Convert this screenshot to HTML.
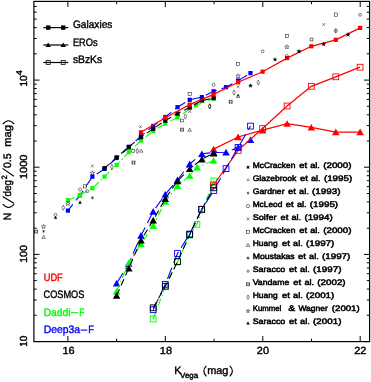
<!DOCTYPE html>
<html><head><meta charset="utf-8"><title>K-band number counts</title>
<style>
html,body{margin:0;padding:0;background:#fff;}
body{width:371px;height:382px;overflow:hidden;}
svg{display:block;font-family:"Liberation Sans",sans-serif;will-change:transform;}
text{text-rendering:geometricPrecision;}
</style></head><body>
<svg width="371" height="382" viewBox="0 0 371 382">
<g id="series">
<polyline points="67.9,210.6 80.0,195.3 92.4,176.7 104.5,168.9 116.6,158.0 128.8,147.5 141.0,136.0 153.2,126.0 165.3,117.0 177.5,107.2 189.7,99.8 201.9,97.1 213.6,91.3 226.0,87.2 238.1,80.6 250.5,73.1" fill="none" stroke="#0000ff" stroke-width="1.1" stroke-dasharray="12 5" stroke-dashoffset="4"/>
<rect x="65.8" y="208.5" width="4.2" height="4.2" fill="#0000ff"/>
<rect x="77.9" y="193.2" width="4.2" height="4.2" fill="#0000ff"/>
<rect x="90.3" y="174.6" width="4.2" height="4.2" fill="#0000ff"/>
<rect x="102.4" y="166.8" width="4.2" height="4.2" fill="#0000ff"/>
<rect x="114.5" y="155.9" width="4.2" height="4.2" fill="#0000ff"/>
<rect x="126.7" y="145.4" width="4.2" height="4.2" fill="#0000ff"/>
<rect x="138.9" y="133.9" width="4.2" height="4.2" fill="#0000ff"/>
<rect x="151.1" y="123.9" width="4.2" height="4.2" fill="#0000ff"/>
<rect x="163.2" y="114.9" width="4.2" height="4.2" fill="#0000ff"/>
<rect x="175.4" y="105.1" width="4.2" height="4.2" fill="#0000ff"/>
<rect x="187.6" y="97.7" width="4.2" height="4.2" fill="#0000ff"/>
<rect x="199.8" y="95.0" width="4.2" height="4.2" fill="#0000ff"/>
<rect x="211.5" y="89.2" width="4.2" height="4.2" fill="#0000ff"/>
<rect x="223.9" y="85.1" width="4.2" height="4.2" fill="#0000ff"/>
<rect x="236.0" y="78.5" width="4.2" height="4.2" fill="#0000ff"/>
<rect x="248.4" y="71.0" width="4.2" height="4.2" fill="#0000ff"/>
<polyline points="67.9,200.2 80.0,194.9 92.4,188.3 104.5,176.7 116.6,165.0 128.8,152.2 141.0,140.5 153.2,131.0 165.3,123.6 177.5,117.3 195.9,105.2 213.6,98.6" fill="none" stroke="#00ff00" stroke-width="1.1" stroke-dasharray="7 3 1.5 3"/>
<rect x="65.8" y="198.1" width="4.2" height="4.2" fill="#00ff00"/>
<rect x="77.9" y="192.8" width="4.2" height="4.2" fill="#00ff00"/>
<rect x="90.3" y="186.2" width="4.2" height="4.2" fill="#00ff00"/>
<rect x="102.4" y="174.6" width="4.2" height="4.2" fill="#00ff00"/>
<rect x="114.5" y="162.9" width="4.2" height="4.2" fill="#00ff00"/>
<rect x="126.7" y="150.1" width="4.2" height="4.2" fill="#00ff00"/>
<rect x="138.9" y="138.4" width="4.2" height="4.2" fill="#00ff00"/>
<rect x="151.1" y="128.9" width="4.2" height="4.2" fill="#00ff00"/>
<rect x="163.2" y="121.5" width="4.2" height="4.2" fill="#00ff00"/>
<rect x="175.4" y="115.2" width="4.2" height="4.2" fill="#00ff00"/>
<rect x="193.8" y="103.1" width="4.2" height="4.2" fill="#00ff00"/>
<rect x="211.5" y="96.5" width="4.2" height="4.2" fill="#00ff00"/>
<polyline points="104.5,168.2 116.6,157.4 128.8,146.8 141.0,137.1 153.2,128.7 165.3,120.6 177.5,113.6 189.7,107.6 201.9,100.5 213.6,98.1" fill="none" stroke="#000000" stroke-width="1.1" stroke-dasharray="7 4"/>
<rect x="102.4" y="166.1" width="4.2" height="4.2" fill="#000000"/>
<rect x="114.5" y="155.3" width="4.2" height="4.2" fill="#000000"/>
<rect x="126.7" y="144.7" width="4.2" height="4.2" fill="#000000"/>
<rect x="138.9" y="135.0" width="4.2" height="4.2" fill="#000000"/>
<rect x="151.1" y="126.6" width="4.2" height="4.2" fill="#000000"/>
<rect x="163.2" y="118.5" width="4.2" height="4.2" fill="#000000"/>
<rect x="175.4" y="111.5" width="4.2" height="4.2" fill="#000000"/>
<rect x="187.6" y="105.5" width="4.2" height="4.2" fill="#000000"/>
<rect x="199.8" y="98.4" width="4.2" height="4.2" fill="#000000"/>
<rect x="211.5" y="96.0" width="4.2" height="4.2" fill="#000000"/>
<polyline points="141.0,132.3 165.3,117.7 189.7,104.6 213.6,94.4 238.1,82.3 262.6,71.7 287.1,58.1 311.3,46.3 335.8,39.8 360.1,27.9" fill="none" stroke="#ff0000" stroke-width="1.25"/>
<rect x="138.9" y="130.2" width="4.2" height="4.2" fill="#ff0000"/>
<rect x="163.2" y="115.6" width="4.2" height="4.2" fill="#ff0000"/>
<rect x="187.6" y="102.5" width="4.2" height="4.2" fill="#ff0000"/>
<rect x="211.5" y="92.3" width="4.2" height="4.2" fill="#ff0000"/>
<rect x="236.0" y="80.2" width="4.2" height="4.2" fill="#ff0000"/>
<rect x="260.5" y="69.6" width="4.2" height="4.2" fill="#ff0000"/>
<rect x="285.0" y="56.0" width="4.2" height="4.2" fill="#ff0000"/>
<rect x="309.2" y="44.2" width="4.2" height="4.2" fill="#ff0000"/>
<rect x="333.7" y="37.7" width="4.2" height="4.2" fill="#ff0000"/>
<rect x="358.0" y="25.8" width="4.2" height="4.2" fill="#ff0000"/>
<polyline points="213.6,149.1 238.1,137.0 262.6,130.2 287.1,123.6 311.3,127.4 335.8,132.0 360.1,132.0" fill="none" stroke="#ff0000" stroke-width="1.25"/>
<polygon points="213.6,145.7 209.8,152.3 217.4,152.3" fill="#ff0000"/>
<polygon points="238.1,133.6 234.3,140.2 241.9,140.2" fill="#ff0000"/>
<polygon points="262.6,126.8 258.8,133.4 266.4,133.4" fill="#ff0000"/>
<polygon points="287.1,120.2 283.3,126.8 290.9,126.8" fill="#ff0000"/>
<polygon points="311.3,124.0 307.5,130.6 315.1,130.6" fill="#ff0000"/>
<polygon points="335.8,128.6 332.0,135.2 339.6,135.2" fill="#ff0000"/>
<polygon points="360.1,128.6 356.3,135.2 363.9,135.2" fill="#ff0000"/>
<polyline points="116.6,283.4 128.8,263.6 141.0,235.5 153.2,211.5 165.3,194.3 177.5,180.0 189.7,164.0 201.9,153.8 213.6,152.5 226.0,152.2 238.1,147.4 250.5,139.9" fill="none" stroke="#0000ff" stroke-width="1.1" stroke-dasharray="12 5"/>
<polygon points="116.6,280.0 112.8,286.6 120.4,286.6" fill="#0000ff"/>
<polygon points="128.8,260.2 125.0,266.8 132.6,266.8" fill="#0000ff"/>
<polygon points="141.0,232.1 137.2,238.7 144.8,238.7" fill="#0000ff"/>
<polygon points="153.2,208.1 149.4,214.7 157.0,214.7" fill="#0000ff"/>
<polygon points="165.3,190.9 161.5,197.5 169.1,197.5" fill="#0000ff"/>
<polygon points="177.5,176.6 173.7,183.2 181.3,183.2" fill="#0000ff"/>
<polygon points="189.7,160.6 185.9,167.2 193.5,167.2" fill="#0000ff"/>
<polygon points="201.9,150.4 198.1,157.0 205.7,157.0" fill="#0000ff"/>
<polygon points="213.6,149.1 209.8,155.7 217.4,155.7" fill="#0000ff"/>
<polygon points="226.0,148.8 222.2,155.4 229.8,155.4" fill="#0000ff"/>
<polygon points="238.1,144.0 234.3,150.6 241.9,150.6" fill="#0000ff"/>
<polygon points="250.5,136.5 246.7,143.1 254.3,143.1" fill="#0000ff"/>
<polyline points="116.6,291.3 128.8,262.9 141.0,244.0 153.2,225.8 165.3,201.6 177.5,185.8 189.7,175.6 197.2,167.2 213.6,160.6" fill="none" stroke="#00ff00" stroke-width="1.1" stroke-dasharray="7 3 1.5 3"/>
<polygon points="116.6,287.9 112.8,294.5 120.4,294.5" fill="#00ff00"/>
<polygon points="128.8,259.5 125.0,266.1 132.6,266.1" fill="#00ff00"/>
<polygon points="141.0,240.6 137.2,247.2 144.8,247.2" fill="#00ff00"/>
<polygon points="153.2,222.4 149.4,229.0 157.0,229.0" fill="#00ff00"/>
<polygon points="165.3,198.2 161.5,204.8 169.1,204.8" fill="#00ff00"/>
<polygon points="177.5,182.4 173.7,189.0 181.3,189.0" fill="#00ff00"/>
<polygon points="189.7,172.2 185.9,178.8 193.5,178.8" fill="#00ff00"/>
<polygon points="197.2,163.8 193.4,170.4 201.0,170.4" fill="#00ff00"/>
<polygon points="213.6,157.2 209.8,163.8 217.4,163.8" fill="#00ff00"/>
<polyline points="116.6,295.6 128.8,268.2 141.0,240.3 153.2,220.2 165.3,198.7 177.5,181.0 189.7,168.8 201.9,159.2 213.6,153.2" fill="none" stroke="#000000" stroke-width="1.1" stroke-dasharray="7 4"/>
<polygon points="116.6,292.2 112.8,298.8 120.4,298.8" fill="#000000"/>
<polygon points="128.8,264.8 125.0,271.4 132.6,271.4" fill="#000000"/>
<polygon points="141.0,236.9 137.2,243.5 144.8,243.5" fill="#000000"/>
<polygon points="153.2,216.8 149.4,223.4 157.0,223.4" fill="#000000"/>
<polygon points="165.3,195.3 161.5,201.9 169.1,201.9" fill="#000000"/>
<polygon points="177.5,177.6 173.7,184.2 181.3,184.2" fill="#000000"/>
<polygon points="189.7,165.4 185.9,172.0 193.5,172.0" fill="#000000"/>
<polygon points="201.9,155.8 198.1,162.4 205.7,162.4" fill="#000000"/>
<polygon points="213.6,149.8 209.8,156.4 217.4,156.4" fill="#000000"/>
<polyline points="153.2,319.0 165.3,286.5 177.5,262.0 189.7,235.0 196.9,224.3 213.8,181.0" fill="none" stroke="#00ff00" stroke-width="1.1" stroke-dasharray="7 3 1.5 3"/>
<rect x="150.3" y="316.1" width="5.8" height="5.8" fill="none" stroke="#00ff00" stroke-width="0.9"/>
<rect x="162.4" y="283.6" width="5.8" height="5.8" fill="none" stroke="#00ff00" stroke-width="0.9"/>
<rect x="174.6" y="259.1" width="5.8" height="5.8" fill="none" stroke="#00ff00" stroke-width="0.9"/>
<rect x="186.8" y="232.1" width="5.8" height="5.8" fill="none" stroke="#00ff00" stroke-width="0.9"/>
<rect x="194.0" y="221.4" width="5.8" height="5.8" fill="none" stroke="#00ff00" stroke-width="0.9"/>
<rect x="210.9" y="178.1" width="5.8" height="5.8" fill="none" stroke="#00ff00" stroke-width="0.9"/>
<polyline points="213.6,185.0 238.1,150.4 262.6,128.5 287.1,106.0 311.3,86.3 335.8,76.8 360.1,67.2" fill="none" stroke="#ff0000" stroke-width="1.25"/>
<rect x="210.7" y="182.1" width="5.8" height="5.8" fill="none" stroke="#ff0000" stroke-width="0.9"/>
<rect x="235.2" y="147.5" width="5.8" height="5.8" fill="none" stroke="#ff0000" stroke-width="0.9"/>
<rect x="259.7" y="125.6" width="5.8" height="5.8" fill="none" stroke="#ff0000" stroke-width="0.9"/>
<rect x="284.2" y="103.1" width="5.8" height="5.8" fill="none" stroke="#ff0000" stroke-width="0.9"/>
<rect x="308.4" y="83.4" width="5.8" height="5.8" fill="none" stroke="#ff0000" stroke-width="0.9"/>
<rect x="332.9" y="73.9" width="5.8" height="5.8" fill="none" stroke="#ff0000" stroke-width="0.9"/>
<rect x="357.2" y="64.3" width="5.8" height="5.8" fill="none" stroke="#ff0000" stroke-width="0.9"/>
<polyline points="153.2,309.7 165.3,284.3 177.5,253.5 189.7,234.0 201.7,209.3 213.8,190.5 226.0,168.6 238.1,147.4 250.5,126.1" fill="none" stroke="#0000ff" stroke-width="1.1" stroke-dasharray="12 5"/>
<rect x="150.3" y="306.8" width="5.8" height="5.8" fill="none" stroke="#0000ff" stroke-width="0.9"/>
<rect x="162.4" y="281.4" width="5.8" height="5.8" fill="none" stroke="#0000ff" stroke-width="0.9"/>
<rect x="174.6" y="250.6" width="5.8" height="5.8" fill="none" stroke="#0000ff" stroke-width="0.9"/>
<rect x="186.8" y="231.1" width="5.8" height="5.8" fill="none" stroke="#0000ff" stroke-width="0.9"/>
<rect x="198.8" y="206.4" width="5.8" height="5.8" fill="none" stroke="#0000ff" stroke-width="0.9"/>
<rect x="210.9" y="187.6" width="5.8" height="5.8" fill="none" stroke="#0000ff" stroke-width="0.9"/>
<rect x="223.1" y="165.7" width="5.8" height="5.8" fill="none" stroke="#0000ff" stroke-width="0.9"/>
<rect x="235.2" y="144.5" width="5.8" height="5.8" fill="none" stroke="#0000ff" stroke-width="0.9"/>
<rect x="247.6" y="123.2" width="5.8" height="5.8" fill="none" stroke="#0000ff" stroke-width="0.9"/>
<polyline points="153.2,307.8 165.3,286.2 177.5,261.6 189.7,234.6 201.7,209.3 213.8,187.8" fill="none" stroke="#000000" stroke-width="1.1" stroke-dasharray="7 4"/>
<rect x="150.3" y="304.9" width="5.8" height="5.8" fill="none" stroke="#000000" stroke-width="0.9"/>
<rect x="162.4" y="283.3" width="5.8" height="5.8" fill="none" stroke="#000000" stroke-width="0.9"/>
<rect x="174.6" y="258.7" width="5.8" height="5.8" fill="none" stroke="#000000" stroke-width="0.9"/>
<rect x="186.8" y="231.7" width="5.8" height="5.8" fill="none" stroke="#000000" stroke-width="0.9"/>
<rect x="198.8" y="206.4" width="5.8" height="5.8" fill="none" stroke="#000000" stroke-width="0.9"/>
<rect x="210.9" y="184.9" width="5.8" height="5.8" fill="none" stroke="#000000" stroke-width="0.9"/>
</g>
<g id="lit">
<rect x="334.2" y="13.0" width="3.2" height="3.2" fill="none" stroke="#000" stroke-width="0.5"/>
<circle cx="360.1" cy="14.8" r="1.4" fill="none" stroke="#000" stroke-width="0.5"/>
<path d="M322.3,23.1L325.1,25.9M322.3,25.9L325.1,23.1" stroke="#000" stroke-width="0.5" fill="none"/>
<circle cx="335.8" cy="30.8" r="1.6" fill="none" stroke="#000" stroke-width="0.5"/>
<path d="M335.8,28.4v4.8" stroke="#000" stroke-width="0.6"/>
<polygon points="348.00,31.90 348.67,33.68 350.57,33.77 349.08,34.95 349.59,36.78 348.00,35.73 346.41,36.78 346.92,34.95 345.43,33.77 347.33,33.68" fill="#000"/>
<rect x="285.3" y="34.3" width="3.2" height="3.2" fill="none" stroke="#000" stroke-width="0.5"/>
<rect x="310.1" y="38.1" width="2.8" height="2.8" fill="none" stroke="#000" stroke-width="0.5"/>
<polygon points="323.70,41.40 324.37,43.18 326.27,43.27 324.78,44.45 325.29,46.28 323.70,45.23 322.11,46.28 322.62,44.45 321.13,43.27 323.03,43.18" fill="#000"/>
<polygon points="286.90,44.70 287.47,46.22 289.09,46.29 287.82,47.30 288.25,48.86 286.90,47.97 285.55,48.86 285.98,47.30 284.71,46.29 286.33,46.22" fill="none" stroke="#000" stroke-width="0.5"/>
<polygon points="299.00,48.70 299.67,50.48 301.57,50.57 300.08,51.75 300.59,53.58 299.00,52.53 297.41,53.58 297.92,51.75 296.43,50.57 298.33,50.48" fill="#000"/>
<circle cx="286.9" cy="56.2" r="1.6" fill="none" stroke="#000" stroke-width="0.5"/>
<polygon points="275.00,57.00 275.62,58.65 277.38,58.73 276.00,59.82 276.47,61.52 275.00,60.55 273.53,61.52 274.00,59.82 272.62,58.73 274.38,58.65" fill="#000"/>
<circle cx="262.6" cy="51.3" r="1.4" fill="none" stroke="#000" stroke-width="0.5"/>
<rect x="236.5" y="62.3" width="3.2" height="3.2" fill="none" stroke="#000" stroke-width="0.5"/>
<polygon points="238.10,73.70 238.69,75.28 240.38,75.36 239.06,76.41 239.51,78.04 238.10,77.11 236.69,78.04 237.14,76.41 235.82,75.36 237.51,75.28" fill="none" stroke="#000" stroke-width="0.5"/>
<polygon points="258.3,80.0 259.6,82.6 258.3,85.2 257.0,82.6" fill="none" stroke="#000" stroke-width="0.5"/>
<polygon points="250.50,83.20 251.12,84.85 252.88,84.93 251.50,86.02 251.97,87.72 250.50,86.75 249.03,87.72 249.50,86.02 248.12,84.93 249.88,84.85" fill="#000"/>
<path d="M236.7,85.3L239.5,88.1M236.7,88.1L239.5,85.3" stroke="#000" stroke-width="0.5" fill="none"/>
<polygon points="234.0,89.9 235.3,92.5 234.0,95.1 232.7,92.5" fill="none" stroke="#000" stroke-width="0.5"/>
<polygon points="238.1,94.3 236.3,97.4 239.8,97.4" fill="none" stroke="#000" stroke-width="0.5"/>
<path d="M238.10,94.30L238.10,96.70M239.14,94.90L237.06,96.10M239.14,96.10L237.06,94.90" stroke="#000" stroke-width="0.5" fill="none"/>
<circle cx="213.6" cy="84.8" r="1.5" fill="none" stroke="#000" stroke-width="0.5"/>
<path d="M229.4,100.5h2.6v2.6h-2.6zM229.4,99.6v4.4M232.0,99.6v4.4" stroke="#000" stroke-width="0.5" fill="none"/>
<polygon points="209.7,103.8 211.0,106.4 209.7,109.0 208.4,106.4" fill="none" stroke="#000" stroke-width="0.5"/>
<path d="M139.1,125.4L141.7,128.0M139.1,128.0L141.7,125.4" stroke="#000" stroke-width="0.5" fill="none"/>
<rect x="131.8" y="149.6" width="2.8" height="2.8" fill="none" stroke="#000" stroke-width="0.5"/>
<polygon points="137.3,148.4 138.6,151.0 137.3,153.6 136.0,151.0" fill="none" stroke="#000" stroke-width="0.5"/>
<polygon points="141.2,149.1 139.4,152.2 142.9,152.2" fill="none" stroke="#000" stroke-width="0.5"/>
<path d="M132.2,161.3h2.6v2.6h-2.6zM132.2,160.4v4.4M134.8,160.4v4.4" stroke="#000" stroke-width="0.5" fill="none"/>
<path d="M91.0,164.6L93.8,167.4M91.0,167.4L93.8,164.6" stroke="#000" stroke-width="0.5" fill="none"/>
<polygon points="92.40,170.70 92.99,172.28 94.68,172.36 93.36,173.41 93.81,175.04 92.40,174.11 90.99,175.04 91.44,173.41 90.12,172.36 91.81,172.28" fill="none" stroke="#000" stroke-width="0.5"/>
<polygon points="111.9,164.3 113.2,166.9 111.9,169.5 110.6,166.9" fill="none" stroke="#000" stroke-width="0.5"/>
<rect x="83.3" y="184.8" width="3.2" height="3.2" fill="none" stroke="#000" stroke-width="0.5"/>
<circle cx="80.0" cy="189.5" r="1.55" fill="none" stroke="#000" stroke-width="0.5"/>
<circle cx="87.3" cy="191.2" r="1.55" fill="none" stroke="#000" stroke-width="0.5"/>
<path d="M92.40,196.20L92.40,199.40M93.79,197.00L91.01,198.60M93.79,198.60L91.01,197.00" stroke="#000" stroke-width="0.5" fill="none"/>
<polygon points="67.90,201.40 68.47,202.92 70.09,202.99 68.82,204.00 69.25,205.56 67.90,204.67 66.55,205.56 66.98,204.00 65.71,202.99 67.33,202.92" fill="none" stroke="#000" stroke-width="0.5"/>
<polygon points="80.0,200.6 78.2,203.7 81.8,203.7" fill="#000"/>
<polygon points="63.3,205.1 64.6,207.7 63.3,210.3 62.0,207.7" fill="none" stroke="#000" stroke-width="0.5"/>
<circle cx="55.5" cy="214.8" r="1.55" fill="none" stroke="#000" stroke-width="0.5"/>
<polygon points="55.5,215.7 53.8,218.8 57.2,218.8" fill="#000"/>
<polygon points="43.60,224.40 44.17,225.92 45.79,225.99 44.52,227.00 44.95,228.56 43.60,227.67 42.25,228.56 42.68,227.00 41.41,225.99 43.03,225.92" fill="none" stroke="#000" stroke-width="0.5"/>
<path d="M43.60,229.80L43.60,232.80M44.90,230.55L42.30,232.05M44.90,232.05L42.30,230.55" stroke="#000" stroke-width="0.5" fill="none"/>
<polygon points="43.6,235.3 41.9,238.4 45.4,238.4" fill="none" stroke="#000" stroke-width="0.5"/>
<path d="M34.7,230.3h2.6v2.6h-2.6zM34.7,229.4v4.4M37.3,229.4v4.4" stroke="#000" stroke-width="0.5" fill="none"/>
<rect x="188.1" y="92.4" width="3.2" height="3.2" fill="none" stroke="#000" stroke-width="0.5"/>
<path d="M188.3,110.1L191.1,112.9M188.3,112.9L191.1,110.1" stroke="#000" stroke-width="0.5" fill="none"/>
<polygon points="185.4,113.9 186.7,116.5 185.4,119.1 184.1,116.5" fill="none" stroke="#000" stroke-width="0.5"/>
<rect x="180.6" y="119.1" width="2.8" height="2.8" fill="none" stroke="#000" stroke-width="0.5"/>
<path d="M180.7,128.4h2.6v2.6h-2.6zM180.7,127.5v4.4M183.3,127.5v4.4" stroke="#000" stroke-width="0.5" fill="none"/>
<polygon points="189.7,128.1 187.9,131.2 191.4,131.2" fill="none" stroke="#000" stroke-width="0.5"/>
<polygon points="153.7,125.9 155.0,128.5 153.7,131.1 152.4,128.5" fill="none" stroke="#000" stroke-width="0.5"/>
<polygon points="209.7,103.8 211.0,106.4 209.7,109.0 208.4,106.4" fill="none" stroke="#000" stroke-width="0.5"/>
</g>
<g id="axes" stroke="#000" stroke-width="1.2" fill="none">
<rect x="33.9" y="1.4" width="335.7" height="340.2"/>
<path d="M67.9,341.55v-5.6M67.9,1.4v5.6M116.6,341.55v-2.8M116.6,1.4v2.8M165.3,341.55v-5.6M165.3,1.4v5.6M214.1,341.55v-2.8M214.1,1.4v2.8M262.8,341.55v-5.6M262.8,1.4v5.6M311.5,341.55v-2.8M311.5,1.4v2.8M360.2,341.55v-5.6M360.2,1.4v5.6M33.9,341.6h5.6M369.6,341.6h-5.6M33.9,315.3h2.8M369.6,315.3h-2.8M33.9,300.0h2.8M369.6,300.0h-2.8M33.9,289.1h2.8M369.6,289.1h-2.8M33.9,280.6h2.8M369.6,280.6h-2.8M33.9,273.7h2.8M369.6,273.7h-2.8M33.9,267.9h2.8M369.6,267.9h-2.8M33.9,262.8h2.8M369.6,262.8h-2.8M33.9,258.4h2.8M369.6,258.4h-2.8M33.9,254.4h5.6M369.6,254.4h-5.6M33.9,228.2h2.8M369.6,228.2h-2.8M33.9,212.8h2.8M369.6,212.8h-2.8M33.9,201.9h2.8M369.6,201.9h-2.8M33.9,193.5h2.8M369.6,193.5h-2.8M33.9,186.6h2.8M369.6,186.6h-2.8M33.9,180.7h2.8M369.6,180.7h-2.8M33.9,175.7h2.8M369.6,175.7h-2.8M33.9,171.2h2.8M369.6,171.2h-2.8M33.9,167.2h5.6M369.6,167.2h-5.6M33.9,141.0h2.8M369.6,141.0h-2.8M33.9,125.6h2.8M369.6,125.6h-2.8M33.9,114.8h2.8M369.6,114.8h-2.8M33.9,106.3h2.8M369.6,106.3h-2.8M33.9,99.4h2.8M369.6,99.4h-2.8M33.9,93.6h2.8M369.6,93.6h-2.8M33.9,88.5h2.8M369.6,88.5h-2.8M33.9,84.1h2.8M369.6,84.1h-2.8M33.9,80.1h5.6M369.6,80.1h-5.6M33.9,53.8h2.8M369.6,53.8h-2.8M33.9,38.5h2.8M369.6,38.5h-2.8M33.9,27.6h2.8M369.6,27.6h-2.8M33.9,19.1h2.8M369.6,19.1h-2.8M33.9,12.2h2.8M369.6,12.2h-2.8M33.9,6.4h2.8M369.6,6.4h-2.8" stroke-width="1"/>
</g>
<g id="labels" fill="#000" stroke="#000" stroke-width="0.4" font-size="10.8px">
<text x="62.4" y="353.9" font-size="10.3px" textLength="12.2" lengthAdjust="spacingAndGlyphs">16</text>
<text x="159.8" y="353.9" font-size="10.3px" textLength="12.2" lengthAdjust="spacingAndGlyphs">18</text>
<text x="256.8" y="353.9" font-size="10.3px" textLength="12.2" lengthAdjust="spacingAndGlyphs">20</text>
<text x="354.2" y="353.9" font-size="10.3px" textLength="12.2" lengthAdjust="spacingAndGlyphs">22</text>
<text transform="translate(26.8,346.8) rotate(-90)" font-size="10.3px" textLength="11.2" lengthAdjust="spacingAndGlyphs">10</text>
<text transform="translate(26.8,262.8) rotate(-90)" font-size="10.3px" textLength="17.6" lengthAdjust="spacingAndGlyphs">100</text>
<text transform="translate(26.8,179.1) rotate(-90)" font-size="10.3px" textLength="24.6" lengthAdjust="spacingAndGlyphs">1000</text>
<text transform="translate(26.8,86.6) rotate(-90)" font-size="10.3px" textLength="11.2" lengthAdjust="spacingAndGlyphs">10</text>
<text transform="translate(22.0,75.5) rotate(-90)" font-size="8.2px" textLength="5.4" lengthAdjust="spacingAndGlyphs">4</text>
<text x="174.2" y="374.3">K</text><text x="180" y="378.1" font-size="7.8px" textLength="18.2" lengthAdjust="spacingAndGlyphs">Vega</text><path d="M206.4,365.9Q201.2,371.1 206.4,376.3M229.8,365.9Q235,371.1 229.8,376.3" stroke-width="1.15" fill="none"/><text x="207.2" y="374.3" textLength="21.2" lengthAdjust="spacingAndGlyphs">mag</text>
<g transform="translate(11.3,219.9) rotate(-90)"><text x="-0.6" y="0">N</text><path d="M15.9,-8.5Q8.9,-2.8 15.9,2.9M16.6,2.6L23.5,-8.7M43.6,2.6L51.5,-8.7M95.7,-8.5Q102.7,-2.8 95.7,2.9" stroke-width="1.15" fill="none"/><text x="23.3" y="0" textLength="16.6" lengthAdjust="spacingAndGlyphs">deg</text><text x="40.3" y="-4.8" font-size="7.8px">2</text><text x="51.9" y="0" textLength="14.6" lengthAdjust="spacingAndGlyphs">0.5</text><text x="73.2" y="0" textLength="21.8" lengthAdjust="spacingAndGlyphs">mag</text></g>
</g>
<g id="leg1">
<path d="M43.3,27.6H68.3" stroke="#000" stroke-width="1.2"/>
<rect x="46.0" y="25.4" width="4.4" height="4.4" fill="#000"/>
<rect x="61.0" y="25.4" width="4.4" height="4.4" fill="#000"/>
<text x="72.9" y="28.4" font-size="10.8px" stroke="#000" stroke-width="0.4" textLength="39.5" lengthAdjust="spacingAndGlyphs">Galaxies</text>
<path d="M43.3,45.0H68.3" stroke="#000" stroke-width="1.2"/>
<polygon points="48.2,42.4 45.5,46.9 50.900000000000006,46.9" fill="#000"/>
<polygon points="63.2,42.4 60.5,46.9 65.9,46.9" fill="#000"/>
<text x="72.9" y="45.8" font-size="10.8px" stroke="#000" stroke-width="0.4" textLength="24.8" lengthAdjust="spacingAndGlyphs">EROs</text>
<path d="M43.3,62.5H68.3" stroke="#000" stroke-width="1.2"/>
<rect x="46.2" y="60.5" width="4" height="4" fill="none" stroke="#000" stroke-width="0.75"/>
<rect x="61.2" y="60.5" width="4" height="4" fill="none" stroke="#000" stroke-width="0.75"/>
<text x="72.9" y="63.3" font-size="10.8px" stroke="#000" stroke-width="0.4" textLength="29.3" lengthAdjust="spacingAndGlyphs">sBzKs</text>
</g>
<g id="leg2" font-size="10.8px" stroke-width="0.4">
<text x="43.7" y="280.7" fill="#ff0000" stroke="#ff0000" textLength="19.1" lengthAdjust="spacingAndGlyphs">UDF</text>
<text x="43.5" y="298.3" fill="#000000" stroke="#000000" textLength="40.9" lengthAdjust="spacingAndGlyphs">COSMOS</text>
<text x="43.7" y="315.7" fill="#00ff00" stroke="#00ff00" textLength="26.8" lengthAdjust="spacingAndGlyphs">Daddi</text>
<path d="M70.9,312.6H78" stroke="#00ff00" stroke-width="1.1"/>
<text x="79.3" y="315.7" fill="#00ff00" stroke="#00ff00" textLength="5.2" lengthAdjust="spacingAndGlyphs">F</text>
<text x="43.7" y="333.2" fill="#0000ff" stroke="#0000ff" textLength="36.4" lengthAdjust="spacingAndGlyphs">Deep3a</text>
<path d="M80.6,330.1H87.3" stroke="#0000ff" stroke-width="1.1"/>
<text x="88.2" y="333.2" fill="#0000ff" stroke="#0000ff" textLength="5.7" lengthAdjust="spacingAndGlyphs">F</text>
</g>
<g id="leg3" font-size="8px" fill="#000" stroke="#000" stroke-width="0.5">
<text x="252.7" y="167.8" textLength="42.7" lengthAdjust="spacingAndGlyphs">McCracken</text>
<text x="299.2" y="167.8" textLength="7.9" lengthAdjust="spacingAndGlyphs">et</text>
<text x="310.2" y="167.8" textLength="9.6" lengthAdjust="spacingAndGlyphs">al.</text>
<text x="323.2" y="167.8" textLength="28.3" lengthAdjust="spacingAndGlyphs">(2000)</text>
<text x="252.7" y="180.8" textLength="43.7" lengthAdjust="spacingAndGlyphs">Glazebrook</text>
<text x="299.9" y="180.8" textLength="7.9" lengthAdjust="spacingAndGlyphs">et</text>
<text x="310.9" y="180.8" textLength="9.6" lengthAdjust="spacingAndGlyphs">al.</text>
<text x="323.9" y="180.8" textLength="28.3" lengthAdjust="spacingAndGlyphs">(1995)</text>
<text x="252.7" y="193.8" textLength="31.9" lengthAdjust="spacingAndGlyphs">Gardner</text>
<text x="288.1" y="193.8" textLength="7.9" lengthAdjust="spacingAndGlyphs">et</text>
<text x="299.1" y="193.8" textLength="9.6" lengthAdjust="spacingAndGlyphs">al.</text>
<text x="312.1" y="193.8" textLength="28.3" lengthAdjust="spacingAndGlyphs">(1993)</text>
<text x="252.7" y="206.9" textLength="29.6" lengthAdjust="spacingAndGlyphs">McLeod</text>
<text x="285.8" y="206.9" textLength="7.9" lengthAdjust="spacingAndGlyphs">et</text>
<text x="296.9" y="206.9" textLength="9.6" lengthAdjust="spacingAndGlyphs">al.</text>
<text x="309.8" y="206.9" textLength="28.3" lengthAdjust="spacingAndGlyphs">(1995)</text>
<text x="252.7" y="219.9" textLength="23.9" lengthAdjust="spacingAndGlyphs">Soifer</text>
<text x="280.4" y="219.9" textLength="7.9" lengthAdjust="spacingAndGlyphs">et</text>
<text x="291.4" y="219.9" textLength="9.6" lengthAdjust="spacingAndGlyphs">al.</text>
<text x="304.4" y="219.9" textLength="28.3" lengthAdjust="spacingAndGlyphs">(1994)</text>
<text x="252.7" y="232.9" textLength="42.7" lengthAdjust="spacingAndGlyphs">McCracken</text>
<text x="299.2" y="232.9" textLength="7.9" lengthAdjust="spacingAndGlyphs">et</text>
<text x="310.2" y="232.9" textLength="9.6" lengthAdjust="spacingAndGlyphs">al.</text>
<text x="323.2" y="232.9" textLength="28.3" lengthAdjust="spacingAndGlyphs">(2000)</text>
<text x="252.7" y="245.9" textLength="24.9" lengthAdjust="spacingAndGlyphs">Huang</text>
<text x="282.0" y="245.9" textLength="7.9" lengthAdjust="spacingAndGlyphs">et</text>
<text x="293.1" y="245.9" textLength="9.6" lengthAdjust="spacingAndGlyphs">al.</text>
<text x="306.0" y="245.9" textLength="28.3" lengthAdjust="spacingAndGlyphs">(1997)</text>
<text x="252.7" y="258.9" textLength="42.0" lengthAdjust="spacingAndGlyphs">Moustakas</text>
<text x="298.0" y="258.9" textLength="7.9" lengthAdjust="spacingAndGlyphs">et</text>
<text x="309.1" y="258.9" textLength="9.6" lengthAdjust="spacingAndGlyphs">al.</text>
<text x="322.0" y="258.9" textLength="28.3" lengthAdjust="spacingAndGlyphs">(1997)</text>
<text x="252.7" y="272.0" textLength="32.6" lengthAdjust="spacingAndGlyphs">Saracco</text>
<text x="289.1" y="272.0" textLength="7.9" lengthAdjust="spacingAndGlyphs">et</text>
<text x="300.1" y="272.0" textLength="9.6" lengthAdjust="spacingAndGlyphs">al.</text>
<text x="313.1" y="272.0" textLength="28.3" lengthAdjust="spacingAndGlyphs">(1997)</text>
<text x="252.7" y="285.0" textLength="36.6" lengthAdjust="spacingAndGlyphs">Vandame</text>
<text x="293.3" y="285.0" textLength="7.9" lengthAdjust="spacingAndGlyphs">et</text>
<text x="304.4" y="285.0" textLength="9.6" lengthAdjust="spacingAndGlyphs">al.</text>
<text x="317.3" y="285.0" textLength="28.3" lengthAdjust="spacingAndGlyphs">(2002)</text>
<text x="252.7" y="298.0" textLength="24.9" lengthAdjust="spacingAndGlyphs">Huang</text>
<text x="282.0" y="298.0" textLength="7.9" lengthAdjust="spacingAndGlyphs">et</text>
<text x="293.1" y="298.0" textLength="9.6" lengthAdjust="spacingAndGlyphs">al.</text>
<text x="306.0" y="298.0" textLength="28.3" lengthAdjust="spacingAndGlyphs">(2001)</text>
<text x="252.7" y="311.0" textLength="28.6" lengthAdjust="spacingAndGlyphs">Kummel</text>
<text x="288.2" y="311.0" textLength="6.9" lengthAdjust="spacingAndGlyphs">&amp;</text>
<text x="298.4" y="311.0" textLength="29.5" lengthAdjust="spacingAndGlyphs">Wagner</text>
<text x="331.8" y="311.0" textLength="27.9" lengthAdjust="spacingAndGlyphs">(2001)</text>
<text x="252.7" y="324.0" textLength="32.6" lengthAdjust="spacingAndGlyphs">Saracco</text>
<text x="289.1" y="324.0" textLength="7.9" lengthAdjust="spacingAndGlyphs">et</text>
<text x="300.1" y="324.0" textLength="9.6" lengthAdjust="spacingAndGlyphs">al.</text>
<text x="313.1" y="324.0" textLength="28.3" lengthAdjust="spacingAndGlyphs">(2001)</text>
</g>
<g id="leg3sym">
<polygon points="248.00,164.90 248.57,166.42 250.19,166.49 248.92,167.50 249.35,169.06 248.00,168.17 246.65,169.06 247.08,167.50 245.81,166.49 247.43,166.42" fill="#000"/>
<path d="M246.3,180.0h3.4M248.0,178.3v3.4" stroke="#555" stroke-width="0.6" fill="none"/>
<path d="M248.00,191.64L248.00,194.44M249.21,192.34L246.79,193.74M249.21,193.74L246.79,192.34" stroke="#000" stroke-width="0.5" fill="none"/>
<circle cx="248.0" cy="206.1" r="1.6" fill="none" stroke="#000" stroke-width="0.5"/>
<path d="M246.6,217.7L249.4,220.5M246.6,220.5L249.4,217.7" stroke="#000" stroke-width="0.5" fill="none"/>
<rect x="246.4" y="230.5" width="3.2" height="3.2" fill="none" stroke="#000" stroke-width="0.5"/>
<polygon points="248.0,243.3 246.2,246.4 249.8,246.4" fill="none" stroke="#000" stroke-width="0.5"/>
<circle cx="248" cy="258.1" r="1.1" fill="#444"/><path d="M246.1,258.1h3.8M248,256.5v3.2" stroke="#444" stroke-width="0.6"/>
<circle cx="248.0" cy="271.2" r="1.1" fill="none" stroke="#000" stroke-width="0.5"/>
<path d="M246.7,282.9h2.6v2.6h-2.6zM246.7,282.0v4.4M249.3,282.0v4.4" stroke="#000" stroke-width="0.5" fill="none"/>
<polygon points="248.0,294.9 249.3,297.2 248.0,299.5 246.7,297.2" fill="none" stroke="#000" stroke-width="0.5"/>
<polygon points="248.00,309.12 248.47,310.37 249.81,310.43 248.76,311.27 249.12,312.56 248.00,311.82 246.88,312.56 247.24,311.27 246.19,310.43 247.53,310.37" fill="none" stroke="#000" stroke-width="0.5"/>
<polygon points="248.0,321.4 246.2,324.5 249.8,324.5" fill="#000"/>
</g>
</svg>
</body></html>
